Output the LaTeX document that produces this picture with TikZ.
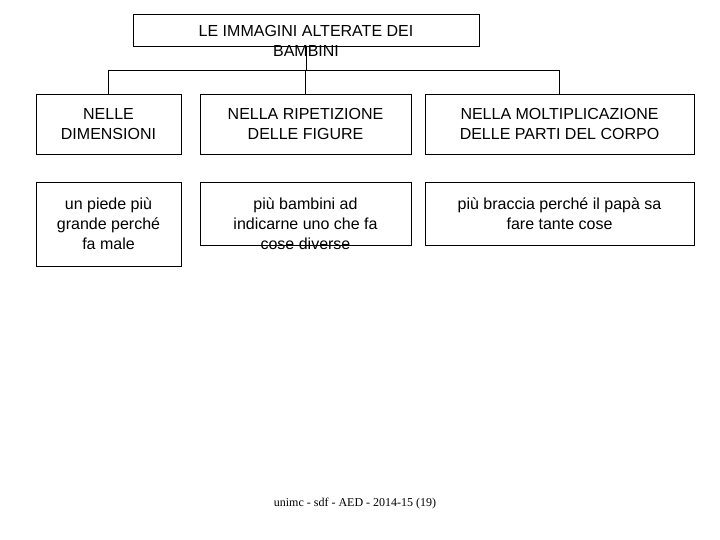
\documentclass[tikz,border=0pt]{standalone}
\usepackage{fontspec}
\setmainfont{Liberation Sans}
\newfontfamily\footfont{Liberation Serif}
\usetikzlibrary{positioning}
\tikzset{catbox/.style={draw,rectangle,inner sep=0,align=center,font=\fontsize{16}{20}\selectfont},
    link/.style={draw,line width=0.6pt}
}
\begin{document}
\begin{tikzpicture}[x=1pt,y=-1pt]
\useasboundingbox (0,0) rectangle (720,540);

% title
\node (title) [catbox,minimum width=346pt,minimum height=32pt] at (306,30) {};
\node at (306,41) [align=center,font=\fontsize{16}{20}\selectfont] {LE IMMAGINI ALTERATE DEI\\BAMBINI};

% first row
\node (dim) [catbox,minimum width=145pt,minimum height=60pt] at (108.5,124) {NELLE\\DIMENSIONI};
\node (rip) [catbox,minimum width=211pt,minimum height=60pt] at (305.5,124) {NELLA RIPETIZIONE\\DELLE FIGURE};
\node (mol) [catbox,minimum width=269pt,minimum height=60pt] at (559.5,124) {NELLA MOLTIPLICAZIONE\\DELLE PARTI DEL CORPO};

% second row
\node (piede) [catbox,minimum width=145pt,minimum height=84pt] at (108.5,224) {un piede più\\grande perché\\fa male};
\node (bamb) [catbox,minimum width=211pt,minimum height=63pt] at (305.5,213.5) {};
\node at (305.5,224) [align=center,font=\fontsize{16}{20}\selectfont] {più bambini ad\\indicarne uno che fa\\cose diverse};
\node (bracc) [catbox,minimum width=269pt,minimum height=63pt] at (559.5,213.5) {più braccia perché il papà sa\\fare tante cose};

% connectors
\coordinate (bar) at (306,70);
\draw [link] (title.south) -- (bar);
\draw [link] (dim.north |- bar) -- (mol.north |- bar);
\foreach \n in {dim,rip,mol}
    \draw [link] (\n.north |- bar) -- (\n.north);

\node (foot) at (355,504) {\footfont\fontsize{12}{14}\selectfont unimc - sdf - AED - 2014-15 (19)};
\end{tikzpicture}
\end{document}
